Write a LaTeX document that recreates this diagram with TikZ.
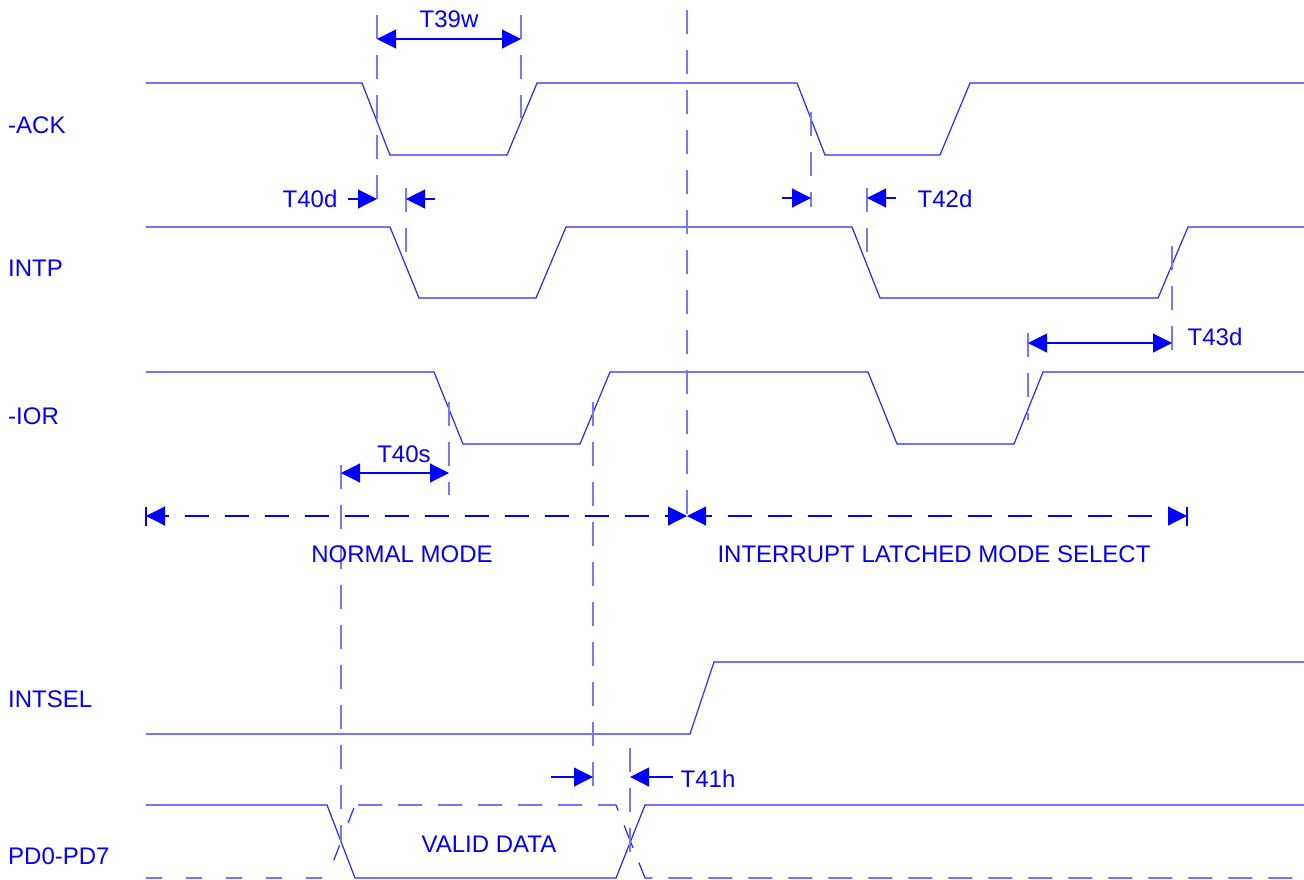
\documentclass[tikz,border=0pt]{standalone}
\usepackage{fontspec}
\setmainfont{Liberation Sans}
\usetikzlibrary{arrows.meta}
\definecolor{sigblue}{RGB}{40,40,255}
\definecolor{txtblue}{RGB}{0,0,255}
\definecolor{guideblue}{RGB}{120,120,255}
\tikzset{
  sig/.style={sigblue, line width=1.2pt, line join=miter},
  guide/.style={guideblue, line width=1.3pt, dash pattern=on 24pt off 16pt},
  dimline/.style={txtblue, line width=1.1pt},
  tipb/.tip={Triangle[length=19pt,width=19pt]},
  lbl/.style={text=txtblue, inner sep=0pt, anchor=base, font=\fontsize{24}{28}\selectfont},
  siglbl/.style={lbl, anchor=base west},
}
\begin{document}
\begin{tikzpicture}[x=1pt,y=-1pt]
\useasboundingbox (0,0) rectangle (1304,879);

% -ACK
\draw[sig] (146,83) -- (362,83) -- (390,155) -- (507,155) -- (537,83) -- (797,83) -- (825,155) -- (940,155) -- (970,83) -- (1304,83);
% INTP
\draw[sig] (146,227) -- (390,227) -- (419,298) -- (536,298) -- (566,227) -- (852,227) -- (880,298) -- (1158,298) -- (1188,227) -- (1304,227);
% -IOR
\draw[sig] (146,372) -- (434,372) -- (463,444) -- (580,444) -- (610,372) -- (868,372) -- (897,444) -- (1014,444) -- (1043,372) -- (1304,372);
% INTSEL
\draw[sig] (146,734) -- (690,734) -- (714,662) -- (1304,662);
% PD0-PD7
\draw[sig] (146,805) -- (327,805) -- (355,878) -- (616,878) -- (645,805) -- (1304,805);
\draw[sig, dash pattern=on 16pt off 24pt] (146,878) -- (327,878) -- (355,805);
\draw[sig, dash pattern=on 24pt off 16pt, dash phase=-3pt] (355,805) -- (616,805) -- (645,878) -- (1304,878);

% guide lines
\draw[guide] (377,15) -- (377,208);
\draw[guide] (521,15) -- (521,118);
\draw[guide] (406,188) -- (406,264);
\draw[guide] (811,112) -- (811,207);
\draw[guide] (867,188) -- (867,264);
\draw[guide] (1172,246) -- (1172,353);
\draw[guide] (1028,333) -- (1028,420);
\draw[guide] (449,402) -- (449,495);
\draw[guide] (341,465) -- (341,841);
\draw[guide] (593,402) -- (593,787);
\draw[guide] (630,748) -- (630,868);
\draw[guide] (687,10) -- (687,527);

% coordinates for dimension arrows
\coordinate (a39l) at (377,39);  \coordinate (a39r) at (521,39);
\coordinate (a40dt) at (348,199); \coordinate (a40dh) at (377,199);
\coordinate (b40dt) at (435,199); \coordinate (b40dh) at (406,199);
\coordinate (a42dt) at (782,198); \coordinate (a42dh) at (811,198);
\coordinate (b42dt) at (896,198); \coordinate (b42dh) at (867,198);
\coordinate (a43l) at (1028,343); \coordinate (a43r) at (1172,343);
\coordinate (a40sl) at (341,473); \coordinate (a40sr) at (449,473);
\coordinate (a41t) at (551,777); \coordinate (a41h) at (593,777);
\coordinate (b41t) at (673,777); \coordinate (b41h) at (630,777);
\coordinate (mL) at (146,516); \coordinate (mM) at (687,516); \coordinate (mR) at (1187,516);

\draw[dimline, tipb-tipb] (a39l) -- (a39r);
\draw[dimline, -tipb] (a40dt) -- (a40dh);
\draw[dimline, -tipb] (b40dt) -- (b40dh);
\draw[dimline, -tipb] (a42dt) -- (a42dh);
\draw[dimline, -tipb] (b42dt) -- (b42dh);
\draw[dimline, tipb-tipb] (a43l) -- (a43r);
\draw[dimline, tipb-tipb] (a40sl) -- (a40sr);
\draw[dimline, -tipb] (a41t) -- (a41h);
\draw[dimline, -tipb] (b41t) -- (b41h);

% mode arrows
\draw[dimline, dash pattern=on 24pt off 16pt, dash phase=20pt, tipb-tipb] (mL) -- (mM);
\draw[dimline, dash pattern=on 24pt off 16pt, dash phase=18pt, tipb-tipb] (mM) -- (mR);
\draw[dimline] (146,507) -- (146,526);
\draw[dimline] (1187,507) -- (1187,526);

% labels
\node[lbl] (t39w) at (449,27) {T39w};
\node[lbl] (t40d) at (310,207) {T40d};
\node[lbl] (t42d) at (945,207) {T42d};
\node[lbl] (t43d) at (1215,345) {T43d};
\node[lbl] (t40s) at (404,462) {T40s};
\node[lbl] (t41h) at (708,787) {T41h};
\node[siglbl] (lack) at (8,133) {-ACK};
\node[siglbl] (lintp) at (8,276) {INTP};
\node[siglbl] (lior) at (8,424) {-IOR};
\node[siglbl] (lintsel) at (8,707) {INTSEL};
\node[siglbl] (lpd) at (8,864) {PD0-PD7};
\node[lbl] (normal) at (402,562) {NORMAL MODE};
\node[lbl] (intl) at (934,562) {INTERRUPT LATCHED MODE SELECT};
\node[lbl] (valid) at (489,852) {VALID DATA};
\end{tikzpicture}
\end{document}
